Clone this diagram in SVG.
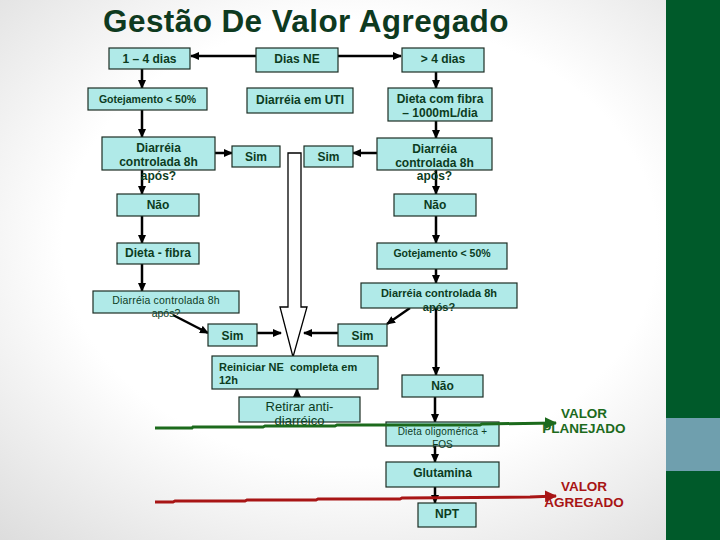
<svg xmlns="http://www.w3.org/2000/svg" width="720" height="540" viewBox="0 0 720 540">
<defs>
<radialGradient id="bg" cx="0.5" cy="0.45" r="0.75">
<stop offset="0.55" stop-color="#ffffff"/>
<stop offset="1" stop-color="#dcdcdc"/>
</radialGradient>
<marker id="ah" markerUnits="userSpaceOnUse" markerWidth="9" markerHeight="8" refX="8" refY="4" orient="auto">
<path d="M0,0 L9,4 L0,8 Z" fill="#000"/>
</marker>
<marker id="ahg" markerUnits="userSpaceOnUse" markerWidth="12" markerHeight="12" refX="11" refY="6" orient="auto">
<path d="M0,0 L12,6 L0,12 Z" fill="#1c6a1c"/>
</marker>
<marker id="ahr" markerUnits="userSpaceOnUse" markerWidth="12" markerHeight="12" refX="11" refY="6" orient="auto">
<path d="M0,0 L12,6 L0,12 Z" fill="#a81515"/>
</marker>
<style>
.b{fill:#b0eae8;stroke:#1d2d24;stroke-width:1.2}
.t{font-family:"Liberation Sans",Arial,sans-serif;font-weight:bold;font-size:12px;fill:#0c3c1e;text-anchor:middle}
.s{font-size:10.5px}
.n{font-weight:normal}
.c{stroke:#000;stroke-width:2.5;fill:none;marker-end:url(#ah)}
</style>
</defs>
<rect width="720" height="540" fill="url(#bg)"/>
<rect x="666" y="0" width="54" height="540" fill="#005a2a"/>
<rect x="666" y="418" width="54" height="53" fill="#6f9fae"/>
<text x="306" y="32" font-family="Liberation Sans,Arial,sans-serif" font-weight="bold" font-size="31.5" fill="#0e3a1f" text-anchor="middle" letter-spacing="0.4">Gestão De Valor Agregado</text>

<g id="connectors">
<line class="c" x1="256" y1="56" x2="191" y2="56"/>
<line class="c" x1="338" y1="56" x2="401" y2="56"/>
<line class="c" x1="142" y1="69" x2="142" y2="88"/>
<line class="c" x1="142" y1="110" x2="142" y2="137"/>
<line class="c" x1="142" y1="170" x2="142" y2="194"/>
<line class="c" x1="142" y1="216" x2="142" y2="243"/>
<line class="c" x1="142" y1="264" x2="142" y2="291"/>
<line class="c" x1="215" y1="153" x2="232" y2="153"/>
<line class="c" x1="377" y1="153" x2="353" y2="153"/>
<line class="c" x1="436" y1="72" x2="436" y2="88"/>
<line class="c" x1="436" y1="121" x2="436" y2="138"/>
<line class="c" x1="436" y1="170" x2="436" y2="194"/>
<line class="c" x1="436" y1="216" x2="436" y2="243"/>
<line class="c" x1="436" y1="269" x2="436" y2="283"/>
<line class="c" x1="436" y1="308" x2="436" y2="375"/>
<line class="c" x1="173" y1="315" x2="208" y2="333"/>
<line class="c" x1="410" y1="308" x2="387" y2="324"/>
<line class="c" x1="257" y1="333" x2="281" y2="333"/>
<line class="c" x1="338" y1="333" x2="304" y2="333"/>
<line class="c" x1="297" y1="397" x2="297" y2="389"/>
<line class="c" x1="435" y1="397" x2="435" y2="422"/>
<line class="c" x1="435" y1="446" x2="435" y2="462"/>
<line class="c" x1="435" y1="487" x2="435" y2="503"/>
<polygon points="288,153 301,153 301,307 307,307 293,357 280,307 288,307" fill="#fff" stroke="#000" stroke-width="1.3"/>
</g>

<g id="n1"><rect class="b" x="109" y="48" width="81" height="21"/><text class="t" x="149.5" y="63">1 – 4 dias</text></g>
<g id="n2"><rect class="b" x="256" y="48" width="82" height="24"/><text class="t" x="297" y="63">Dias NE</text></g>
<g id="n3"><rect class="b" x="402" y="48" width="82" height="24"/><text class="t" x="443" y="63">&gt; 4 dias</text></g>
<g id="n4"><rect class="b" x="88" y="88" width="119" height="22"/><text class="t s" x="147.5" y="103">Gotejamento &lt; 50%</text></g>
<g id="n5"><rect class="b" x="247" y="88" width="106" height="25"/><text class="t" x="300" y="104">Diarréia em UTI</text></g>
<g id="n6"><rect class="b" x="388" y="88" width="104" height="33"/><text class="t" x="440" y="103">Dieta com fibra</text><text class="t" x="440" y="117">– 1000mL/dia</text></g>
<g id="n7"><rect class="b" x="102" y="137" width="113" height="33"/><text class="t" x="158.5" y="152">Diarréia</text><text class="t" x="158.5" y="166">controlada 8h</text><text class="t" x="158.5" y="180">após?</text></g>
<g id="n8"><rect class="b" x="232" y="146" width="48" height="21"/><text class="t" x="256" y="161">Sim</text></g>
<g id="n9"><rect class="b" x="304" y="146" width="49" height="21"/><text class="t" x="328.5" y="161">Sim</text></g>
<g id="n10"><rect class="b" x="377" y="138" width="115" height="32"/><text class="t" x="434.5" y="153">Diarréia</text><text class="t" x="434.5" y="167">controlada 8h</text><text class="t" x="434.5" y="180">após?</text></g>
<g id="n11"><rect class="b" x="117" y="194" width="82" height="22"/><text class="t" x="158" y="209">Não</text></g>
<g id="n12"><rect class="b" x="394" y="194" width="82" height="22"/><text class="t" x="435" y="209">Não</text></g>
<g id="n13"><rect class="b" x="117" y="243" width="82" height="21"/><text class="t" x="158" y="257">Dieta - fibra</text></g>
<g id="n14"><rect class="b" x="377" y="243" width="130" height="26"/><text class="t s" x="442" y="257">Gotejamento &lt; 50%</text></g>
<g id="n15"><rect class="b" x="93" y="291" width="146" height="22"/><text class="t s n" x="166" y="304" letter-spacing="0.2">Diarréia controlada 8h</text><text class="t s n" x="166" y="317">após?</text></g>
<g id="n16"><rect class="b" x="361" y="283" width="156" height="25"/><text class="t" x="439" y="297" style="font-size:11px">Diarréia controlada 8h</text><text class="t" x="439" y="311" style="font-size:11px">após?</text></g>
<g id="n17"><rect class="b" x="208" y="324" width="49" height="22"/><text class="t" x="232.5" y="340">Sim</text></g>
<g id="n18"><rect class="b" x="338" y="324" width="49" height="22"/><text class="t" x="362.5" y="340">Sim</text></g>
<g id="n19"><rect class="b" x="212" y="356" width="166" height="33"/><text class="t" x="219" y="371" style="font-size:11px;text-anchor:start" xml:space="preserve">Reiniciar NE  completa em</text><text class="t" x="219" y="384" style="font-size:11px;text-anchor:start">12h</text></g>
<g id="n20"><rect class="b" x="402" y="375" width="81" height="22"/><text class="t" x="442.5" y="390">Não</text></g>
<g id="n21"><rect class="b" x="239" y="397" width="121" height="25"/><text class="t n" x="299.5" y="411" style="font-size:13px">Retirar anti-</text><text class="t n" x="299.5" y="425" style="font-size:13px">diarréico</text></g>
<g id="n22"><rect class="b" x="386" y="422" width="113" height="24"/><text class="t n" x="442.5" y="435" style="font-size:10px" letter-spacing="0.2">Dieta oligomérica +</text><text class="t n" x="442.5" y="448" style="font-size:10px">FOS</text></g>
<g id="n23"><rect class="b" x="386" y="462" width="113" height="25"/><text class="t" x="442.5" y="477">Glutamina</text></g>
<g id="n24"><rect class="b" x="418" y="503" width="58" height="24"/><text class="t" x="447" y="518">NPT</text></g>

<g id="value-lines">
<polyline points="155,428 192,428 193,427 263,427 265,426 335,426 337,425 480,425 482,424 556,423" fill="none" stroke="#1c6a1c" stroke-width="3" marker-end="url(#ahg)"/>
<polyline points="155,502 173,502 175,501 245,501 247,500 316,500 318,499 400,499 402,498 530,497 556,496" fill="none" stroke="#a81515" stroke-width="3" marker-end="url(#ahr)"/>
<text class="t" x="584" y="418" style="font-size:13.5px;fill:#1c6a1c">VALOR</text>
<text class="t" x="584" y="433" style="font-size:13.5px;fill:#1c6a1c">PLANEJADO</text>
<text class="t" x="584" y="491" style="font-size:13.5px;fill:#a81515">VALOR</text>
<text class="t" x="584" y="507" style="font-size:13.5px;fill:#a81515">AGREGADO</text>
</g>
</svg>
